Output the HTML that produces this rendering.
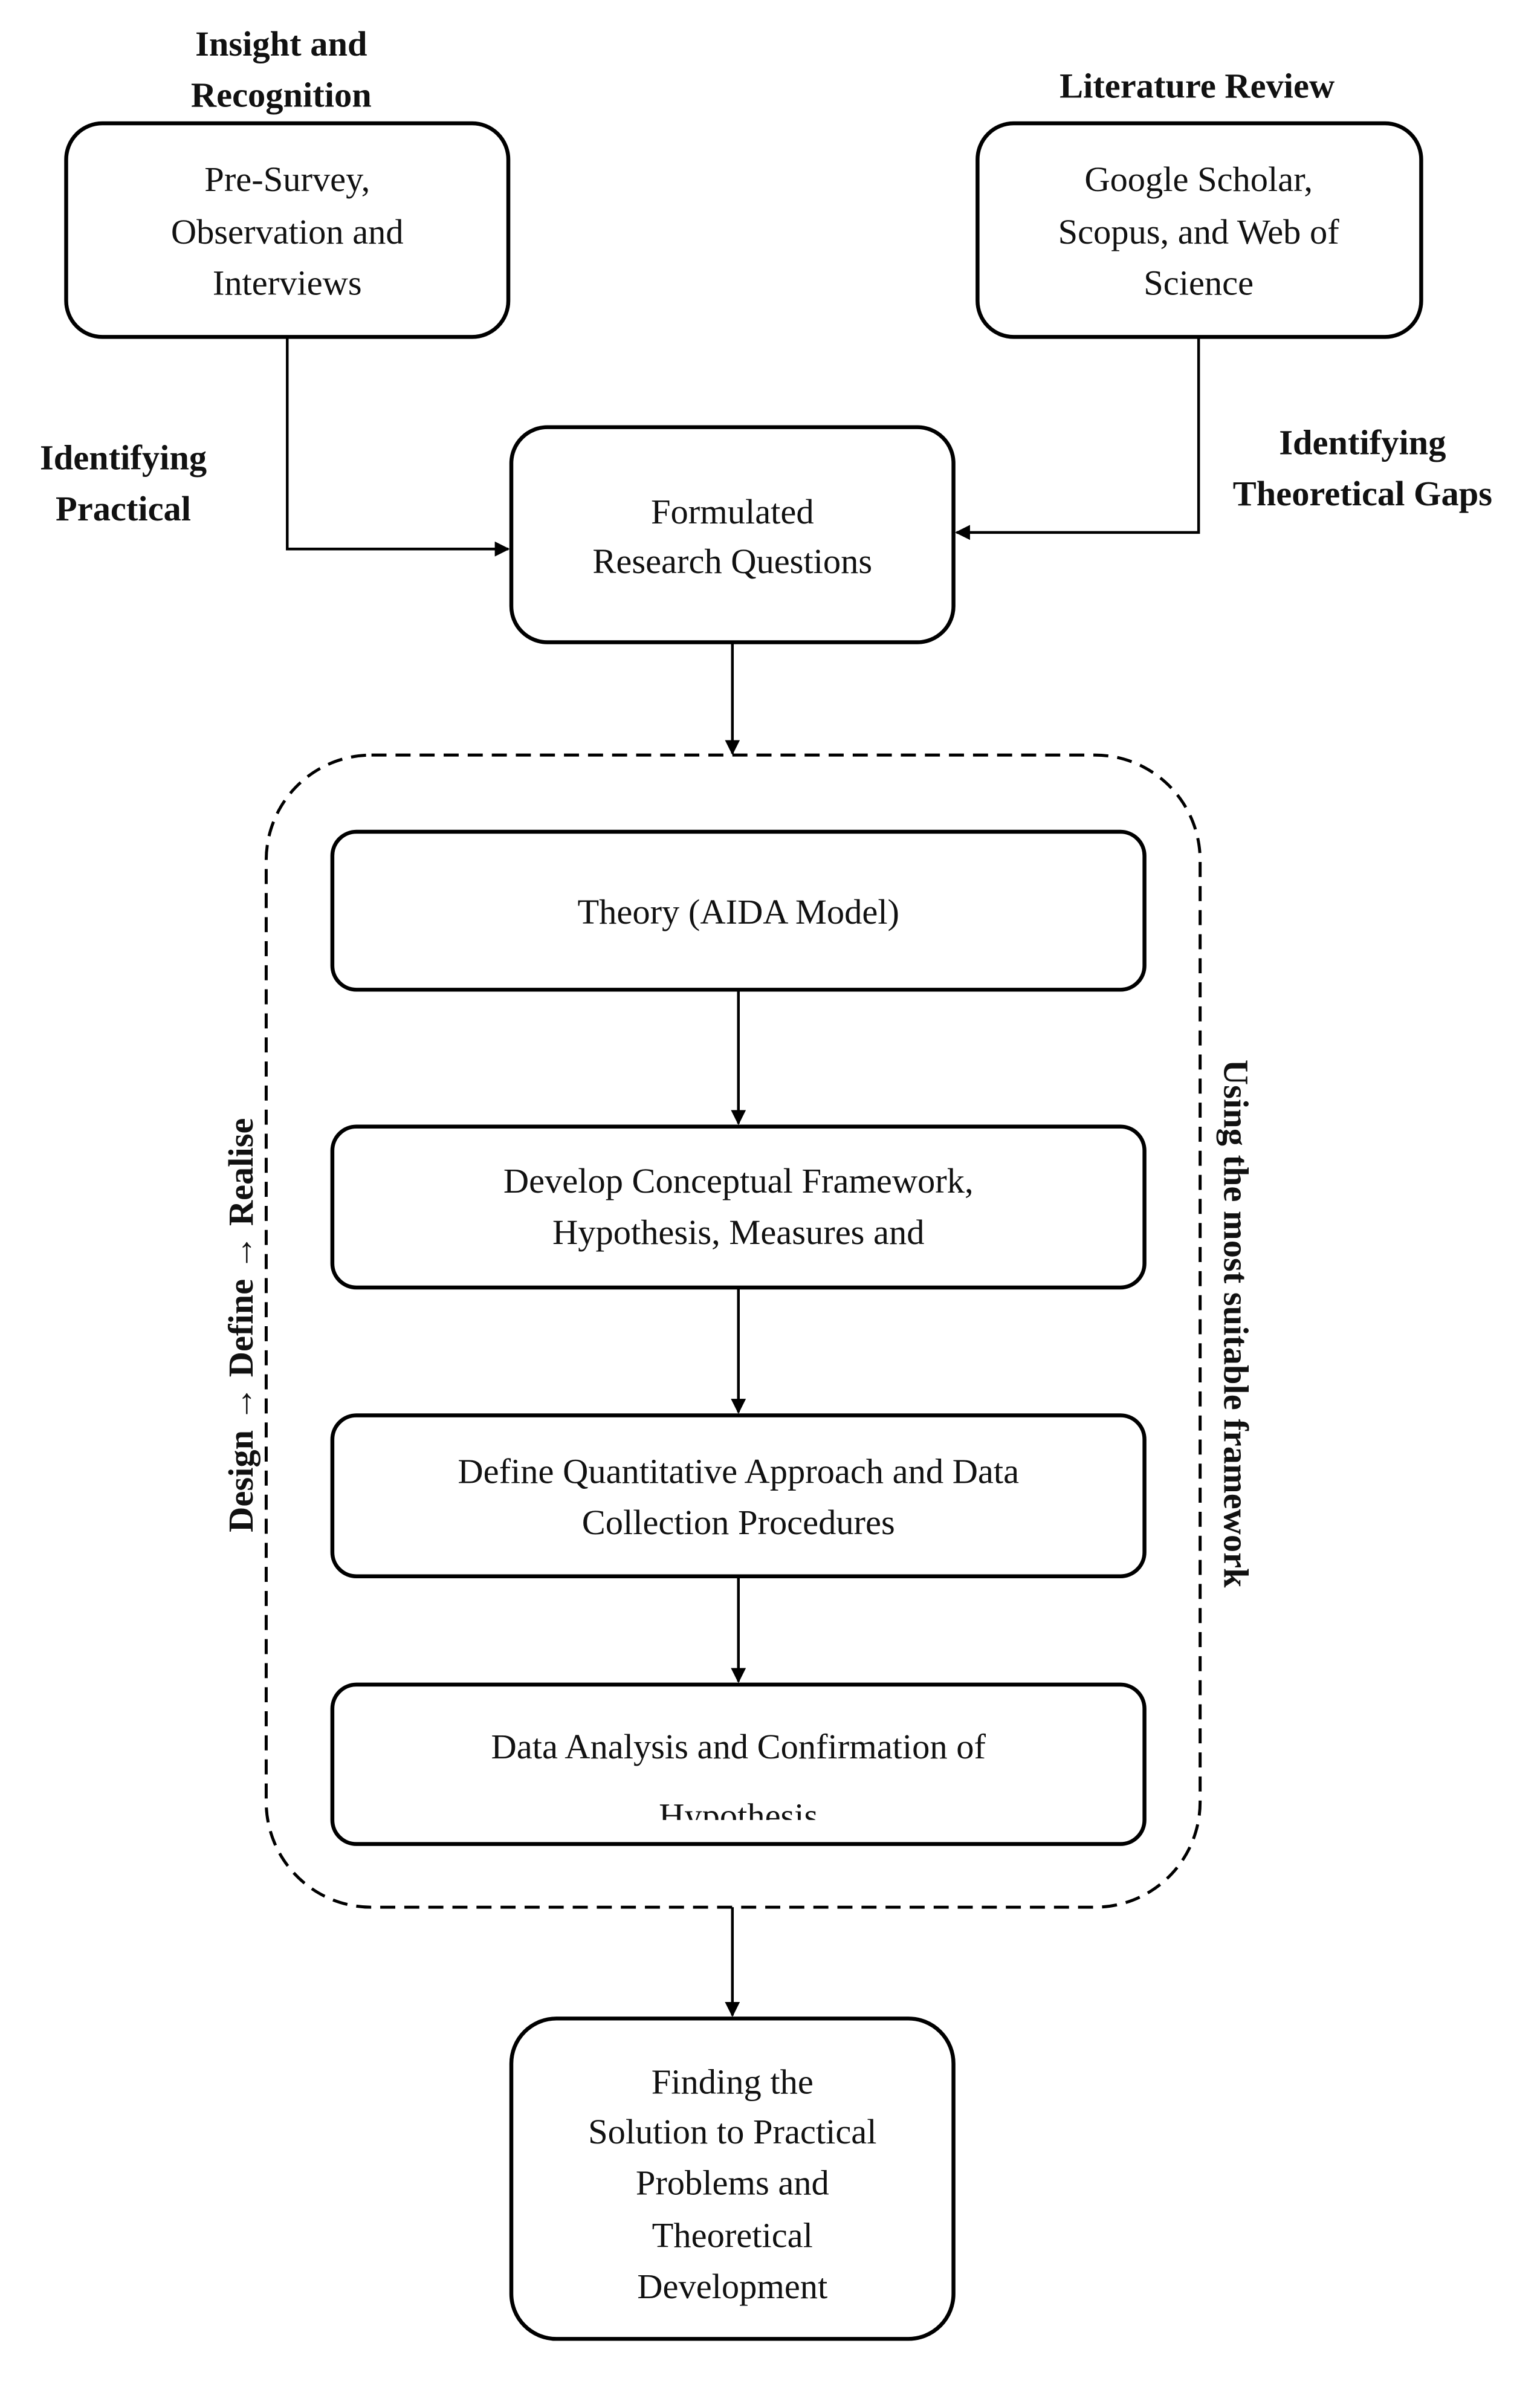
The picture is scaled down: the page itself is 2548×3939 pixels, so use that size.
<!DOCTYPE html>
<html><head><meta charset="utf-8"><style>
html,body{margin:0;padding:0;background:#fff;}
svg{display:block;}
text{font-family:"Liberation Serif",serif;fill:#111;}
.t{font-size:23.5px;text-anchor:middle;}
.b{font-size:23.5px;font-weight:bold;text-anchor:middle;}
</style></head><body>
<svg width="2548" height="3939" viewBox="0 0 1024 1583" preserveAspectRatio="none" xmlns="http://www.w3.org/2000/svg">
<defs>
<marker id="a" markerWidth="10" markerHeight="10" refX="9" refY="5" orient="auto" markerUnits="userSpaceOnUse">
<path d="M0,0 L10,5 L0,10 z" fill="#000"/></marker>
<clipPath id="c7"><rect x="221" y="1120" width="540" height="90"/></clipPath>
</defs>
<g fill="none" stroke="#000" stroke-width="2.6">
<rect x="44" y="82" width="294" height="142" rx="24"/>
<rect x="650" y="82" width="295" height="142" rx="24"/>
<rect x="340" y="284" width="294" height="143" rx="24"/>
<rect x="177" y="502" width="621" height="766" rx="70" stroke-dasharray="10,6" stroke-width="2"/>
<rect x="221" y="553" width="540" height="105" rx="16"/>
<rect x="221" y="749" width="540" height="107" rx="16"/>
<rect x="221" y="941" width="540" height="107" rx="16"/>
<rect x="221" y="1120" width="540" height="106" rx="16"/>
<rect x="340" y="1342" width="294" height="213" rx="30"/>
<g stroke-width="1.8">
<path d="M191,224 V365 H338" marker-end="url(#a)"/>
<path d="M797,224 V354 H636" marker-end="url(#a)"/>
<path d="M487,427 V501" marker-end="url(#a)"/>
<path d="M491,658 V747" marker-end="url(#a)"/>
<path d="M491,856 V939" marker-end="url(#a)"/>
<path d="M491,1048 V1118" marker-end="url(#a)"/>
<path d="M487,1268 V1340" marker-end="url(#a)"/>
</g>
</g>
<text class="b" x="187" y="37">Insight and</text>
<text class="b" x="187" y="71">Recognition</text>
<text class="b" x="796" y="65">Literature Review</text>
<text class="t" x="191" y="127">Pre-Survey,</text>
<text class="t" x="191" y="162">Observation and</text>
<text class="t" x="191" y="196">Interviews</text>
<text class="t" x="797" y="127">Google Scholar,</text>
<text class="t" x="797" y="162">Scopus, and Web of</text>
<text class="t" x="797" y="196">Science</text>
<text class="b" x="82" y="312">Identifying</text>
<text class="b" x="82" y="346">Practical</text>
<text class="b" x="906" y="302">Identifying</text>
<text class="b" x="906" y="336">Theoretical Gaps</text>
<text class="t" x="487" y="348">Formulated</text>
<text class="t" x="487" y="381">Research Questions</text>
<text class="t" x="491" y="614">Theory (AIDA Model)</text>
<text class="t" x="491" y="793">Develop Conceptual Framework,</text>
<text class="t" x="491" y="827">Hypothesis, Measures and</text>
<text class="t" x="491" y="986">Define Quantitative Approach and Data</text>
<text class="t" x="491" y="1020">Collection Procedures</text>
<text class="t" x="491" y="1169">Data Analysis and Confirmation of</text>
<text class="t" x="491" y="1215" clip-path="url(#c7)">Hypothesis</text>
<text class="b" x="0" y="0" transform="translate(168,881) rotate(-90)">Design → Define → Realise</text>
<text class="b" x="0" y="0" transform="translate(814,880) rotate(90)">Using the most suitable framework</text>
<text class="t" x="487" y="1392">Finding the</text>
<text class="t" x="487" y="1425">Solution to Practical</text>
<text class="t" x="487" y="1459">Problems and</text>
<text class="t" x="487" y="1494">Theoretical</text>
<text class="t" x="487" y="1528">Development</text>
</svg>
</body></html>
